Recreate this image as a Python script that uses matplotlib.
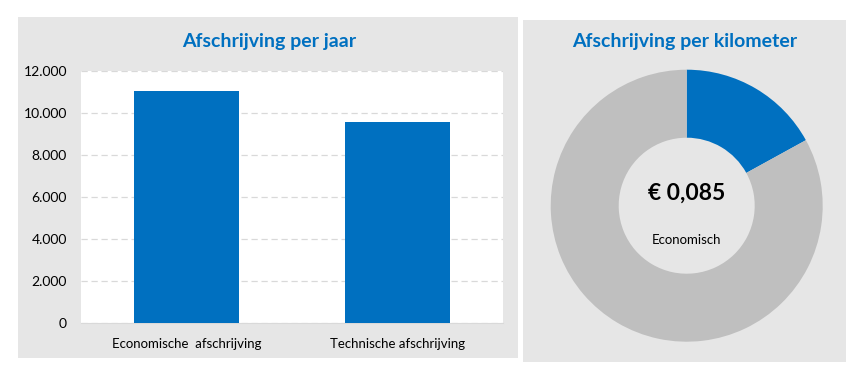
import matplotlib
matplotlib.use("Agg")
import matplotlib.pyplot as plt
from matplotlib.patches import Rectangle
from matplotlib.ticker import FuncFormatter

plt.rcParams['font.family'] = ['Lato', 'DejaVu Sans']

# data
categories = ['Economische  afschrijving', 'Technische afschrijving']
per_jaar = [11050, 9570]
y_ticks = [0, 2000, 4000, 6000, 8000, 10000, 12000]

donut_labels = ['Economisch', 'Rest']
donut_values = [0.085, 0.415]
center_value = '€ 0,085'
center_label = 'Economisch'

BLUE = '#0070C0'
GREY = '#BFBFBF'
PANEL = '#E6E6E6'

W, H = 866, 382
fig = plt.figure(figsize=(W / 100, H / 100), dpi=100)
fig.patch.set_facecolor('white')


def box(x0, y0, x1, y1):
    # pixel box (top-left origin) -> figure fraction rect
    return [x0 / W, (H - y1) / H, (x1 - x0) / W, (y1 - y0) / H]


# grey panels, drawn behind the axes
for (x0, y0, x1, y1) in [(18, 17, 518, 358), (523, 20, 846, 362)]:
    r = box(x0, y0, x1, y1)
    fig.add_artist(Rectangle((r[0], r[1]), r[2], r[3], transform=fig.transFigure,
                             facecolor=PANEL, edgecolor='none', zorder=-10))

# bar chart
ax = fig.add_axes(box(81, 70.7, 503, 322.7))
ax.set_facecolor('white')
ax.bar(range(len(categories)), per_jaar, width=0.5, color=BLUE, zorder=3)
ax.set_xlim(-0.5, len(categories) - 0.5)
ax.set_ylim(0, 12000)
ax.set_yticks(y_ticks)
ax.yaxis.set_major_formatter(FuncFormatter(lambda v, p: f'{int(v):,}'.replace(',', '.')))
ax.set_xticks(range(len(categories)))
ax.set_xticklabels(categories, fontsize=9.5)
ax.tick_params(axis='y', length=0, pad=10, labelsize=10)
ax.tick_params(axis='x', length=0, pad=11)
ax.grid(axis='y', color='#D9D9D9', linestyle=(0, (5, 3)), linewidth=0.9, zorder=0)
for s in ['top', 'right', 'left']:
    ax.spines[s].set_visible(False)
ax.spines['bottom'].set_color('#D9D9D9')
fig.text(269 / W, 1 - 42 / H, 'Afschrijving per jaar', ha='center', va='center',
         fontsize=14, fontweight='bold', color=BLUE)

# donut chart
ax2 = fig.add_axes(box(550.7, 69.7, 822.7, 341.7))
ax2.pie(donut_values, colors=[BLUE, GREY], startangle=90, counterclock=False,
        radius=1, wedgeprops=dict(width=0.5, edgecolor='none'))
ax2.set_xlim(-1, 1)
ax2.set_ylim(-1, 1)
ax2.set_aspect('equal')
ax2.axis('off')
ax2.text(0, 0.09, center_value, ha='center', va='center', fontsize=16.5,
         fontweight='bold', color='black')
ax2.text(0, -0.25, center_label, ha='center', va='center', fontsize=9.5, color='black')
fig.text(685 / W, 1 - 41 / H, 'Afschrijving per kilometer', ha='center', va='center',
         fontsize=14, fontweight='bold', color=BLUE)

fig.savefig('out.png', dpi=100, facecolor='white')
